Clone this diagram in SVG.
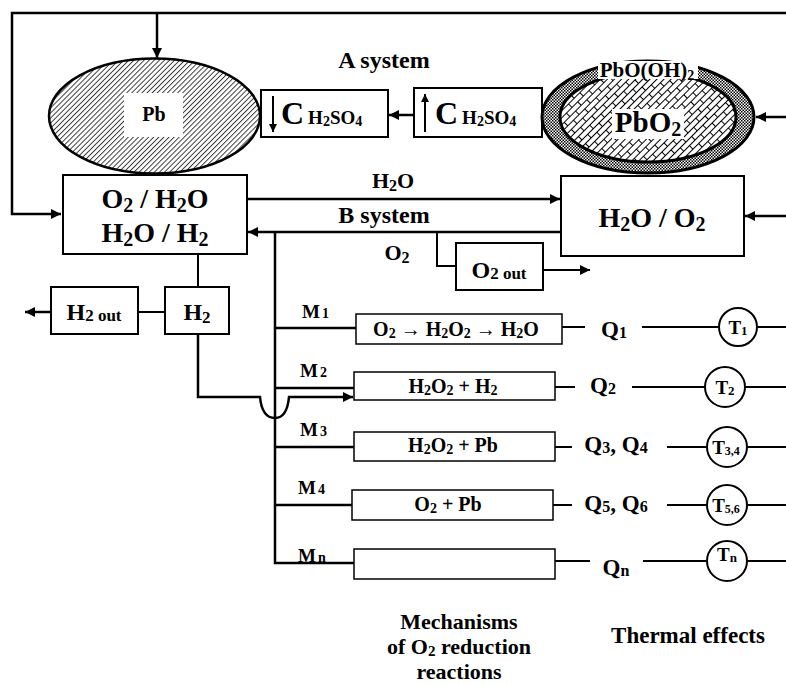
<svg xmlns="http://www.w3.org/2000/svg" width="786" height="685" viewBox="0 0 786 685">
<style>
text{font-family:"Liberation Serif","Times New Roman",serif;font-weight:bold;fill:#000}
.m{text-anchor:middle}
.ln{fill:none;stroke:#000;stroke-width:2.5}
.bx{fill:#fff;stroke:#000;stroke-width:2}
.rb{fill:#fff;stroke:#000;stroke-width:1.5}
.thin{fill:none;stroke:#000;stroke-width:2}
.circ{fill:#fff;stroke:#000;stroke-width:2}
</style>
<defs>
<marker id="arr" viewBox="0 0 10 10" refX="10" refY="5" markerWidth="12" markerHeight="10" markerUnits="userSpaceOnUse" orient="auto"><path d="M0,0 L10,5 L0,10 z" fill="#000"/></marker>
<marker id="arrs" viewBox="0 0 10 10" refX="10" refY="5" markerWidth="9" markerHeight="8" markerUnits="userSpaceOnUse" orient="auto"><path d="M0,0 L10,5 L0,10 z" fill="#000"/></marker>
<pattern id="hatch" width="3.6" height="3.6" patternUnits="userSpaceOnUse" patternTransform="rotate(45)"><rect width="3.6" height="3.6" fill="#fff"/><line x1="0.5" y1="0" x2="0.5" y2="3.6" stroke="#000" stroke-width="0.75"/></pattern>
<pattern id="brick" width="16" height="10" patternUnits="userSpaceOnUse" patternTransform="rotate(-45)"><rect width="16" height="10" fill="#fff"/><path d="M0,0.5 H16 M0,5.5 H16 M0.5,0.5 V5.5 M8.5,5.5 V10.5" stroke="#000" stroke-width="1" fill="none"/></pattern>
<pattern id="dots" width="3" height="3" patternUnits="userSpaceOnUse"><rect width="3" height="3" fill="#fff"/><rect width="1.5" height="1.5" fill="#000"/><rect x="1.5" y="1.5" width="1.5" height="1.5" fill="#000"/></pattern>
</defs>

<g id="connectors">
<path class="ln" d="M786,13 H12 V214 H61" marker-end="url(#arr)"/>
<line class="ln" x1="157" y1="13" x2="157" y2="58" marker-end="url(#arr)"/>
<line class="ln" x1="414" y1="115" x2="389" y2="115" marker-end="url(#arr)"/>
<line class="ln" x1="786" y1="117" x2="756" y2="117" marker-end="url(#arr)"/>
<line class="ln" x1="247" y1="199" x2="560" y2="199" marker-end="url(#arr)"/>
<line class="ln" x1="561" y1="232" x2="248" y2="232" marker-end="url(#arr)"/>
<line class="ln" x1="786" y1="216" x2="745" y2="216" marker-end="url(#arr)"/>
<path class="thin" d="M437,232 V266 H456"/>
<line class="thin" x1="543" y1="270" x2="590" y2="270" marker-end="url(#arr)"/>
<line class="thin" x1="198" y1="254" x2="198" y2="287"/>
<line class="thin" x1="138" y1="312" x2="165" y2="312"/>
<line class="ln" x1="51" y1="312" x2="25" y2="312" marker-end="url(#arr)"/>
<path class="ln" d="M198,334 V397 H260 Q262,418 275,418 Q287,418 289,397 H353" marker-end="url(#arr)"/>
<path class="ln" d="M275,232 V563 H354"/>
<line class="ln" x1="275" y1="328" x2="356" y2="328"/>
<line class="ln" x1="275" y1="388" x2="354" y2="388"/>
<line class="ln" x1="275" y1="447" x2="354" y2="447"/>
<line class="ln" x1="275" y1="505" x2="352" y2="505"/>
<path class="thin" d="M562,327 H585 M642,327 H719 M757,327 H786"/>
<path class="thin" d="M555,387 H575 M632,387 H705 M745,387 H786"/>
<path class="thin" d="M555,447 H572 M667,447 H707 M747,447 H786"/>
<path class="thin" d="M553,505 H572 M667,505 H707 M747,505 H786"/>
<path class="thin" d="M555,561 H590 M643,561 H707 M747,561 H786"/>
</g>

<g id="pb">
<ellipse cx="154.5" cy="116" rx="105.5" ry="57.5" fill="url(#hatch)" stroke="#000" stroke-width="2.5"/>
<rect x="124" y="93" width="59" height="44" fill="#fff"/>
<text class="m" x="154" y="121" font-size="20">Pb</text>
</g>

<g id="c-down">
<rect class="bx" x="261" y="90" width="127" height="47"/>
<line class="thin" x1="273" y1="96" x2="273" y2="132" marker-end="url(#arrs)"/>
<text x="281" y="124" font-size="32">C<tspan font-size="19" dx="4">H<tspan font-size="14" dy="2">2</tspan><tspan dy="-2">SO</tspan><tspan font-size="14" dy="2">4</tspan></tspan></text>
</g>

<g id="c-up">
<rect class="bx" x="414" y="88" width="128" height="49"/>
<line class="thin" x1="425" y1="132" x2="425" y2="94" marker-end="url(#arrs)"/>
<text x="435" y="124" font-size="32">C<tspan font-size="19" dx="4">H<tspan font-size="14" dy="2">2</tspan><tspan dy="-2">SO</tspan><tspan font-size="14" dy="2">4</tspan></tspan></text>
</g>

<g id="pbo2">
<ellipse cx="648" cy="117" rx="106" ry="56" fill="url(#dots)" stroke="#000" stroke-width="3"/>
<ellipse cx="648" cy="117" rx="88" ry="45" fill="url(#brick)" stroke="#000" stroke-width="3"/>
<rect x="598" y="61" width="100" height="18" fill="#fff"/>
<text class="m" x="647" y="77" font-size="21">PbO(OH)<tspan font-size="14" dy="3">2</tspan></text>
<rect x="612" y="109" width="72" height="30" fill="#fff"/>
<text class="m" x="648" y="132" font-size="29">PbO<tspan font-size="20" dy="4">2</tspan></text>
</g>

<text class="m" x="384" y="68" font-size="24">A system</text>
<text class="m" x="393" y="188" font-size="22">H<tspan font-size="16" dy="3">2</tspan><tspan dy="-3">O</tspan></text>
<text class="m" x="384" y="223" font-size="24">B system</text>
<text class="m" x="397" y="260" font-size="22">O<tspan font-size="16" dy="3">2</tspan></text>

<g id="left-box">
<rect class="bx" x="63" y="175" width="184" height="79"/>
<text class="m" x="155" y="208" font-size="28">O<tspan font-size="20" dy="4">2</tspan><tspan dy="-4"> / H</tspan><tspan font-size="20" dy="4">2</tspan><tspan dy="-4">O</tspan></text>
<text class="m" x="155" y="242" font-size="28">H<tspan font-size="20" dy="4">2</tspan><tspan dy="-4">O / H</tspan><tspan font-size="20" dy="4">2</tspan></text>
</g>

<g id="right-box">
<rect class="bx" x="561" y="176" width="183" height="80"/>
<text class="m" x="652" y="227" font-size="28">H<tspan font-size="20" dy="4">2</tspan><tspan dy="-4">O / O</tspan><tspan font-size="20" dy="4">2</tspan></text>
</g>

<g id="o2out">
<rect class="bx" x="456" y="243" width="87" height="47"/>
<text class="m" x="499" y="278" font-size="24">O<tspan font-size="17" dy="1">2 out</tspan></text>
</g>

<g id="h2">
<rect class="bx" x="165" y="287" width="64" height="47"/>
<text class="m" x="197" y="320" font-size="24">H<tspan font-size="17" dy="3">2</tspan></text>
</g>

<g id="h2out">
<rect class="bx" x="51" y="287" width="87" height="47"/>
<text class="m" x="94" y="320" font-size="24">H<tspan font-size="17" dy="1">2 out</tspan></text>
</g>

<g id="m1">
<text x="302" y="318" font-size="19">M<tspan font-size="14" dx="2">1</tspan></text>
<rect class="rb" x="356" y="314" width="206" height="30"/>
<text class="m" x="456" y="336" font-size="20">O<tspan font-size="14" dy="2">2</tspan><tspan dy="-2"> → H</tspan><tspan font-size="14" dy="2">2</tspan><tspan dy="-2">O</tspan><tspan font-size="14" dy="2">2</tspan><tspan dy="-2"> → H</tspan><tspan font-size="14" dy="2">2</tspan><tspan dy="-2">O</tspan></text>
<text class="m" x="614" y="337" font-size="23">Q<tspan font-size="16" dy="1">1</tspan></text>
<circle class="circ" cx="738" cy="327" r="19"/>
<text class="m" x="738" y="334" font-size="19">T<tspan font-size="13" dy="1">1</tspan></text>
</g>

<g id="m2">
<text x="300" y="377" font-size="19">M<tspan font-size="14" dx="2">2</tspan></text>
<rect class="rb" x="354" y="372" width="201" height="28"/>
<text class="m" x="453" y="393" font-size="20">H<tspan font-size="14" dy="2">2</tspan><tspan dy="-2">O</tspan><tspan font-size="14" dy="2">2</tspan><tspan dy="-2"> + H</tspan><tspan font-size="14" dy="2">2</tspan></text>
<text class="m" x="603" y="393" font-size="23">Q<tspan font-size="16" dy="1">2</tspan></text>
<circle class="circ" cx="725" cy="387" r="20"/>
<text class="m" x="725" y="394" font-size="19">T<tspan font-size="13" dy="1">2</tspan></text>
</g>

<g id="m3">
<text x="300" y="436" font-size="19">M<tspan font-size="14" dx="2">3</tspan></text>
<rect class="rb" x="354" y="432" width="201" height="29"/>
<text class="m" x="453" y="452" font-size="20">H<tspan font-size="14" dy="2">2</tspan><tspan dy="-2">O</tspan><tspan font-size="14" dy="2">2</tspan><tspan dy="-2"> + Pb</tspan></text>
<text class="m" x="616" y="452" font-size="23">Q<tspan font-size="16" dy="1">3</tspan><tspan dy="-1">, Q</tspan><tspan font-size="16" dy="1">4</tspan></text>
<circle class="circ" cx="727" cy="447" r="20"/>
<text class="m" x="726" y="454" font-size="19">T<tspan font-size="12" dy="1">3,4</tspan></text>
</g>

<g id="m4">
<text x="298" y="494" font-size="19">M<tspan font-size="14" dx="2">4</tspan></text>
<rect class="rb" x="352" y="490" width="201" height="30"/>
<text class="m" x="448" y="511" font-size="20">O<tspan font-size="14" dy="2">2</tspan><tspan dy="-2"> + Pb</tspan></text>
<text class="m" x="616" y="511" font-size="23">Q<tspan font-size="16" dy="1">5</tspan><tspan dy="-1">, Q</tspan><tspan font-size="16" dy="1">6</tspan></text>
<circle class="circ" cx="727" cy="505" r="20"/>
<text class="m" x="726" y="512" font-size="19">T<tspan font-size="12" dy="1">5,6</tspan></text>
</g>

<g id="mn">
<text x="298" y="562" font-size="19">M<tspan font-size="14" dx="2">n</tspan></text>
<rect class="rb" x="354" y="549" width="201" height="30"/>
<text class="m" x="616" y="575" font-size="23">Q<tspan font-size="16" dy="1">n</tspan></text>
<circle class="circ" cx="727" cy="561" r="20"/>
<text class="m" x="727" y="561" font-size="19">T<tspan font-size="13" dy="1">n</tspan></text>
</g>

<text class="m" x="459" y="629" font-size="22">Mechanisms</text>
<text class="m" x="459" y="654" font-size="22">of O<tspan font-size="15" dy="2">2</tspan><tspan dy="-2"> reduction</tspan></text>
<text class="m" x="459" y="679" font-size="22">reactions</text>
<text class="m" x="688" y="643" font-size="23">Thermal effects</text>
</svg>
